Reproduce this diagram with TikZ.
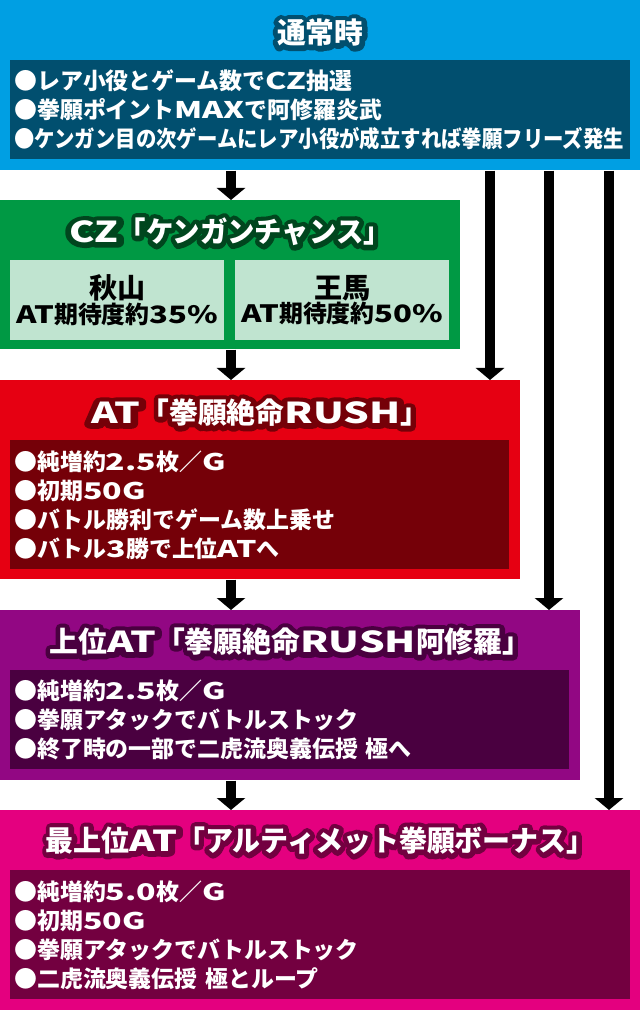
\documentclass[tikz,border=0pt]{standalone}
\usepackage{fontspec}
\usepackage{graphicx}
\setmainfont{Noto Sans CJK JP}
\usetikzlibrary{positioning,arrows.meta,calc}

\definecolor{normalblue}{RGB}{0,159,227}
\definecolor{normaldark}{RGB}{1,79,111}
\definecolor{czgreen}{RGB}{0,153,68}
\definecolor{czlight}{RGB}{192,228,208}
\definecolor{czdark}{RGB}{0,70,30}
\definecolor{rushred}{RGB}{230,0,18}
\definecolor{rushdark}{RGB}{117,0,8}
\definecolor{asurapurple}{RGB}{146,7,131}
\definecolor{asuradark}{RGB}{74,0,64}
\definecolor{ultpink}{RGB}{228,0,127}
\definecolor{ultdark}{RGB}{115,0,64}

% wide latin letters and digits
\newcommand{\wl}[1]{\scalebox{1.4}[1]{#1}}
% white title text with a dark rim
\newcommand{\rimmed}[2]{\leavevmode\rlap{\special{pdf:literal direct q 1 Tr 7 w 1 j 1 J}\textcolor{#1}{#2}\special{pdf:literal direct Q}}#2}

\begin{document}
\begin{tikzpicture}[x=0.025cm, y=-0.025cm,
      stage/.style={anchor=north west, inner sep=0pt},
      info/.style={anchor=north west, inner xsep=0.1cm, inner ysep=0pt, align=left, text=white,
        font=\bfseries\fontsize{16.3}{20.6}\selectfont},
      cell/.style={anchor=north west, fill=czlight, inner sep=0pt, minimum width=5.35cm, minimum height=2cm, align=center},
      ttl/.style={text=white, inner sep=0pt, font=\bfseries\fontsize{20.5}{24}\selectfont},
      arr/.style={-{Triangle[width=0.7cm,length=0.3cm]}, line width=0.25cm}
    ]
    \useasboundingbox (0,0) rectangle (640,1010);

    % stages
    \node[stage, fill=normalblue, minimum width=16cm, minimum height=4.25cm] (normal) at (0,0) {};
    \node[stage, fill=czgreen, minimum width=11.5cm, minimum height=3.725cm] (cz) at (0,200) {};
    \node[stage, fill=rushred, minimum width=13cm, minimum height=4.975cm] (rush) at (0,380) {};
    \node[stage, fill=asurapurple, minimum width=14.5cm, minimum height=4.25cm] (asura) at (0,610) {};
    \node[stage, fill=ultpink, minimum width=16cm, minimum height=5cm] (ult) at (0,810) {};

    % titles
    \node[ttl] (normalttl) at ($(normal.north)+(0,33)$) {\rimmed{normaldark}{通常時}};
    \node[ttl] (czttl) at ($(cz.north)+(0,32)$) {\rimmed{czdark}{\scalebox{0.95}[1]{\wl{CZ}「ケンガンチャンス」}}};
    \node[ttl] (rushttl) at ($(rush.north)+(0,33)$) {\rimmed{rushdark}{\wl{AT}「拳願絶命\wl{RUSH}」}};
    \node[ttl] (asurattl) at ($(asura.north)+(0,32)$) {\rimmed{asuradark}{上位\wl{AT}「拳願絶命\wl{RUSH}阿修羅」}};
    \node[ttl] (ultttl) at ($(ult.north)+(0,31)$) {\rimmed{ultdark}{\scalebox{0.97}[1]{最上位\wl{AT}「アルティメット拳願ボーナス」}}};

    % details
    \node[info, fill=normaldark, text width=15.3cm, minimum height=2.475cm] (normalinfo) at (10,60)
      {●レア小役とゲーム数で\wl{CZ}抽選\\●拳願ポイント\wl{MAX}で阿修羅炎武\\\scalebox{0.89}[1]{●ケンガン目の次ゲームにレア小役が成立すれば拳願フリーズ発生}};
    \node[cell] (akiyama) at (10,260)
      {{\bfseries\fontsize{20}{26}\selectfont 秋山}\\{\bfseries\fontsize{17}{20}\selectfont \scalebox{1.3}[1]{AT}期待度約\scalebox{1.3}[1]{35\%}}};
    \node[cell] (ouma) at (235,260)
      {{\bfseries\fontsize{20}{26}\selectfont 王馬}\\{\bfseries\fontsize{17}{20}\selectfont \scalebox{1.3}[1]{AT}期待度約\scalebox{1.3}[1]{50\%}}};
    \node[info, fill=rushdark, text width=12.275cm, minimum height=3.225cm] (rushinfo) at (10,440)
      {●純増約\wl{2.5}枚／\wl{G}\\●初期\wl{50G}\\●バトル勝利でゲーム数上乗せ\\●バトル\wl{3}勝で上位\wl{AT}へ};
    \node[info, fill=asuradark, text width=13.775cm, minimum height=2.475cm] (asurainfo) at (10,670)
      {●純増約\wl{2.5}枚／\wl{G}\\●拳願アタックでバトルストック\\●終了時の一部で二虎流奥義伝授 極へ};
    \node[info, fill=ultdark, text width=15.3cm, minimum height=3.225cm] (ultinfo) at (10,870)
      {●純増約\wl{5.0}枚／\wl{G}\\●初期\wl{50G}\\●拳願アタックでバトルストック\\●二虎流奥義伝授 極とループ};

    % connectors
    \coordinate (trunk) at (231,0);
    \coordinate (skipA) at (490,0);
    \coordinate (skipB) at (549,0);
    \coordinate (skipC) at (609,0);
    \draw[arr] (normal.south -| trunk) -- (cz.north -| trunk);
    \draw[arr] (cz.south -| trunk) -- (rush.north -| trunk);
    \draw[arr] (rush.south -| trunk) -- (asura.north -| trunk);
    \draw[arr] (asura.south -| trunk) -- (ult.north -| trunk);
    \draw[arr] (normal.south -| skipA) -- (rush.north -| skipA);
    \draw[arr] (normal.south -| skipB) -- (asura.north -| skipB);
    \draw[arr] (normal.south -| skipC) -- (ult.north -| skipC);
\end{tikzpicture}
\end{document}
